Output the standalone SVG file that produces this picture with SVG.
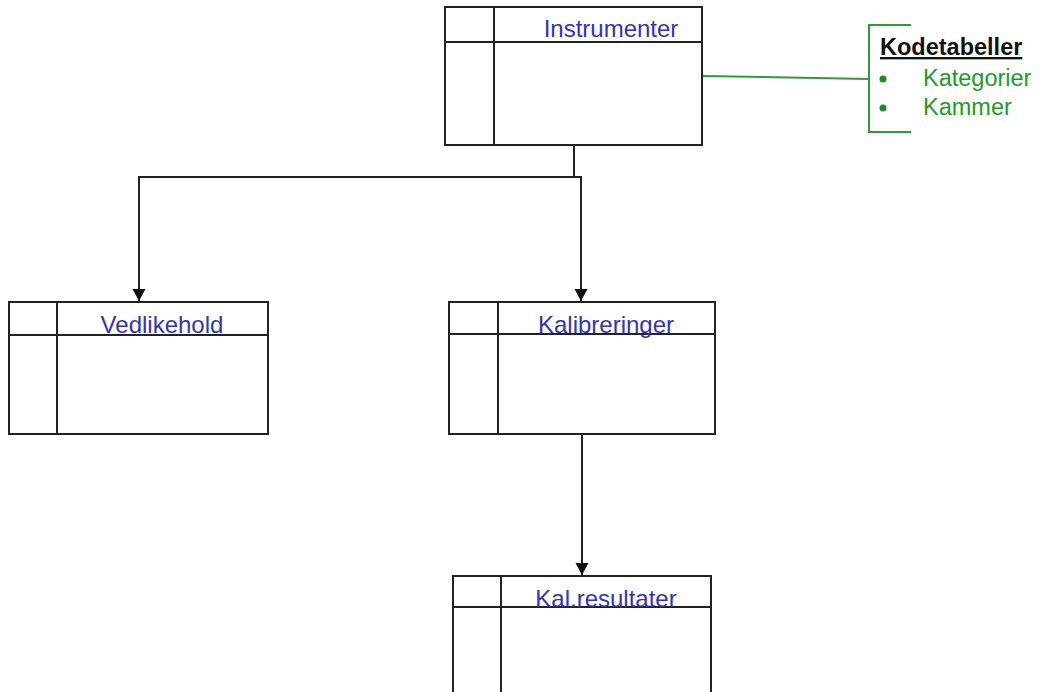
<svg xmlns="http://www.w3.org/2000/svg" width="1040" height="692" viewBox="0 0 1040 692">
<style>
.box{fill:#fff;stroke:#222;stroke-width:2}
.ln{stroke:#222;stroke-width:2;fill:none}
.lbl{font-family:"Liberation Sans",Arial,sans-serif;font-size:24px;fill:#3434b0;text-anchor:middle}
.conn{stroke:#222;stroke-width:2;fill:none}
.grn{stroke:#2e9a3a;stroke-width:2;fill:none}
.gt{font-family:"Liberation Sans",Arial,sans-serif;font-size:23.5px;fill:#1e9a2a}
</style>
<defs>
<marker id="arr" markerWidth="14" markerHeight="14" refX="12" refY="6.5" orient="auto" markerUnits="userSpaceOnUse">
<path d="M0,0 L12,6.5 L0,13 z" fill="#111"/>
</marker>
</defs>
<rect width="1040" height="692" fill="#fff"/>
<g id="connectors">
<path class="conn" d="M574,145 V177 H139 V301" marker-end="url(#arr)"/>
<path class="conn" d="M574,177 H581 V301" marker-end="url(#arr)"/>
<path class="conn" d="M582,435 V575" marker-end="url(#arr)"/>
<path class="grn" d="M702,76 L869,79"/>
</g>
<g id="instrumenter">
<rect class="box" x="445" y="7" width="257" height="138"/>
<line class="ln" x1="445" y1="42" x2="702" y2="42"/>
<line class="ln" x1="494" y1="7" x2="494" y2="145"/>
<text class="lbl" x="611" y="37">Instrumenter</text>
</g>
<g id="vedlikehold">
<rect class="box" x="9" y="302" width="259" height="132"/>
<line class="ln" x1="9" y1="335" x2="268" y2="335"/>
<line class="ln" x1="57" y1="302" x2="57" y2="434"/>
<text class="lbl" x="162" y="333">Vedlikehold</text>
</g>
<g id="kalibreringer">
<rect class="box" x="449" y="302" width="266" height="132"/>
<line class="ln" x1="449" y1="334" x2="715" y2="334"/>
<line class="ln" x1="498" y1="302" x2="498" y2="434"/>
<text class="lbl" x="606" y="333">Kalibreringer</text>
</g>
<g id="kalresultater">
<path class="ln" d="M453,700 V576 H711 V700"/>
<line class="ln" x1="453" y1="607" x2="711" y2="607"/>
<line class="ln" x1="501" y1="576" x2="501" y2="700"/>
<text class="lbl" x="606" y="607">Kal.resultater</text>
</g>
<g id="kodetabeller">
<path class="grn" d="M911,25 H869 V132 H911"/>
<text x="880" y="55" font-family="'Liberation Sans',Arial,sans-serif" font-size="23.5" font-weight="bold" fill="#111" text-decoration="underline">Kodetabeller</text>
<circle cx="883" cy="79" r="3.5" fill="#1e8a2a"/>
<circle cx="883" cy="108" r="3.5" fill="#1e8a2a"/>
<text class="gt" x="923" y="86">Kategorier</text>
<text class="gt" x="923" y="115">Kammer</text>
</g>
</svg>
